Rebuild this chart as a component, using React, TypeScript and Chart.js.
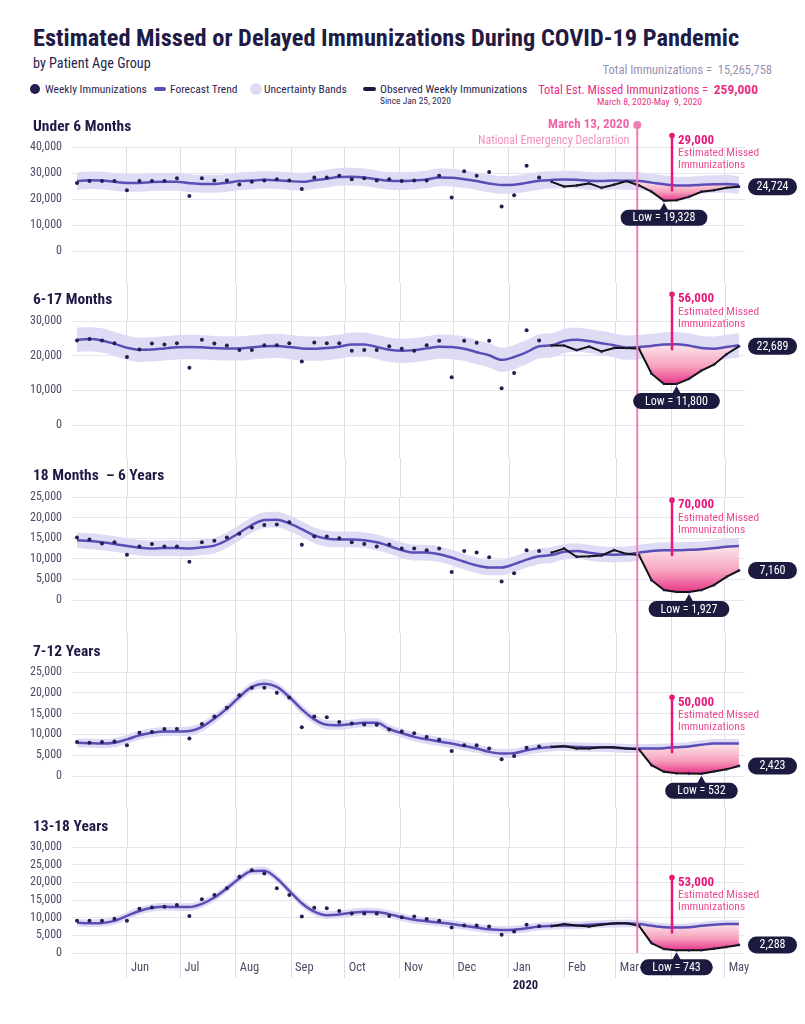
import React, { useEffect, useRef } from "react";
import { Chart, registerables } from "chart.js";

Chart.register(...registerables);

const FONT = "'Roboto Condensed', 'Liberation Sans Narrow', 'DejaVu Sans Condensed', Roboto, sans-serif";
Chart.defaults.font.family = FONT;

// ---------- text ----------
const TITLE = "Estimated Missed or Delayed Immunizations During COVID-19 Pandemic";
const SUBTITLE = "by Patient Age Group";
const TOTAL_IMMUNIZATIONS = 15265758;
const TOTAL_MISSED = 259000;
const MISSED_PERIOD = "March 8, 2020-May  9, 2020";
const OBSERVED_SINCE = "Since Jan 25, 2020";
const EMERGENCY_TITLE = "March 13, 2020";
const EMERGENCY_NOTE = "National Emergency Declaration";

// ---------- time axis ----------
const FIRST_WEEK_ENDING = "2019-05-04";
const WEEK_COUNT = 54;
const OBSERVED_START = 38; // week ending Jan 25, 2020
const MISSED_START = 44; // last week before the missed period
const EMERGENCY_DATE = "2020-03-13";
const MONTH_LABELS = ["Jun", "Jul", "Aug", "Sep", "Oct", "Nov", "Dec", "Jan", "Feb", "Mar", "Apr", "May"];
const MONTH_STARTS = [
  "2019-06-01", "2019-07-01", "2019-08-01", "2019-09-01", "2019-10-01", "2019-11-01",
  "2019-12-01", "2020-01-01", "2020-02-01", "2020-03-01", "2020-04-01", "2020-05-01",
];
const YEAR_LABEL = "2020";
const YEAR_START = "2020-01-01";

// ---------- Under 6 Months ----------
const U6_WEEKLY = [26200, 26900, 26900, 26900, 23400, 26900, 26900, 26900, 28000, 21200, 28000, 27100, 27100, 25600, 26600, 27100, 27600, 27100, 23800, 28300, 28300, 28900, 27600, 28000, 27100, 27600, 26900, 27100, 27100, 28900, 20600, 30700, 28900, 30400, 17100, 21400, 32800, 28300];
const U6_OBSERVED = [26600, 24800, 25200, 26000, 24300, 25500, 26900, 25200, 22800, 19328, 19500, 20800, 22800, 23400, 24300, 24724];
const U6_TREND = [26900, 27200, 27100, 26600, 26200, 26200, 26500, 26600, 26600, 26100, 25800, 25800, 26200, 26900, 27100, 27400, 27200, 26900, 26600, 27200, 27800, 28500, 28600, 28300, 27600, 27000, 26900, 27100, 27500, 28300, 28200, 27600, 26900, 26000, 25400, 25500, 26200, 27000, 27300, 27500, 27400, 27000, 26900, 27100, 27000, 26900, 26300, 25700, 25200, 25200, 25500, 25700, 25800, 25400];
const U6_BAND = 3400;
const U6_MISSED = 29000;

// ---------- 6-17 Months ----------
const M617_WEEKLY = [24400, 24800, 24400, 23600, 19600, 21800, 23500, 23200, 23600, 16500, 24600, 23500, 22900, 21600, 21600, 23000, 23000, 23600, 18300, 23800, 23600, 23600, 21400, 21600, 21600, 22700, 22000, 21400, 23000, 24300, 13800, 24300, 23700, 24300, 10600, 15000, 27300, 24400];
const M617_OBSERVED = [22900, 22900, 21600, 22600, 21200, 22200, 22200, 22000, 14800, 11850, 11800, 13300, 15700, 17400, 20400, 22689];
const M617_TREND = [24600, 24800, 24400, 23400, 22300, 21700, 21800, 22100, 22400, 22500, 22400, 22200, 22100, 22100, 22400, 22700, 22800, 22500, 22100, 22000, 22200, 22600, 23200, 23200, 22500, 21700, 21400, 21600, 22100, 22600, 22500, 22000, 21000, 20100, 18800, 19600, 21000, 22700, 23000, 24200, 24600, 24200, 23600, 23000, 22300, 22500, 22800, 23200, 23300, 22900, 22200, 22000, 22500, 23000];
const M617_BAND = 3500;
const M617_MISSED = 56000;

// ---------- 18 Months - 6 Years ----------
const Y16_WEEKLY = [15200, 14700, 13700, 14000, 11000, 13000, 13600, 13000, 13000, 9300, 14000, 14400, 15200, 16100, 17600, 18200, 18300, 18900, 13400, 15400, 15400, 15000, 14000, 13600, 13000, 13500, 12500, 12500, 12100, 12500, 6800, 11900, 11500, 10400, 4500, 6500, 12100, 11900];
const Y16_OBSERVED = [11500, 12500, 10500, 10600, 10800, 12100, 11200, 10900, 4800, 2400, 1950, 1927, 2400, 3600, 5600, 7160];
const Y16_TREND = [14500, 14300, 14000, 13600, 13100, 12700, 12500, 12600, 12600, 12500, 12800, 13200, 14500, 16300, 18200, 19400, 19500, 18600, 17200, 15700, 14900, 14700, 14700, 14500, 14000, 13100, 12100, 11500, 11500, 11100, 10300, 9300, 8400, 7900, 7900, 8700, 9800, 10600, 10900, 11700, 11900, 11500, 11100, 11000, 11100, 11500, 11900, 12100, 12100, 12200, 12300, 12600, 12900, 13100];
const Y16_BAND = 1900;
const Y16_MISSED = 70000;

// ---------- 7-12 Years ----------
const Y712_WEEKLY = [8200, 8000, 8200, 8300, 7400, 10400, 10600, 11300, 11300, 9000, 12500, 14300, 16400, 19400, 21200, 21200, 20000, 18900, 11700, 14300, 14100, 13000, 12600, 12400, 12300, 11200, 10700, 10300, 9400, 8700, 6000, 7400, 7400, 6600, 4000, 4800, 6800, 7100];
const Y712_OBSERVED = [7000, 7200, 6600, 6600, 6900, 6900, 6600, 6400, 2600, 1000, 650, 600, 532, 1100, 1600, 2423];
const Y712_TREND = [8000, 7900, 7800, 8000, 8800, 9800, 10400, 10700, 10700, 10800, 11800, 13800, 16200, 19000, 21400, 22200, 21400, 19000, 16000, 13600, 12300, 12200, 12500, 12800, 12800, 11300, 10300, 9400, 8800, 8300, 7800, 7200, 6600, 5800, 5400, 5500, 6200, 6700, 7000, 7100, 7000, 6900, 6900, 6800, 6600, 6600, 6600, 6700, 6900, 7100, 7500, 7800, 7800, 7800];
const Y712_BAND = 1100;
const Y712_MISSED = 50000;

// ---------- 13-18 Years ----------
const Y1318_WEEKLY = [9100, 9100, 9100, 9700, 9100, 12500, 12900, 13100, 13600, 10500, 15200, 16400, 18300, 21600, 23400, 22500, 18300, 16400, 10300, 12800, 12700, 11900, 11200, 11200, 11200, 10500, 10100, 10300, 9600, 9100, 7200, 7800, 7800, 7500, 5200, 6100, 8000, 7600];
const Y1318_OBSERVED = [7600, 8200, 7800, 7500, 8000, 8400, 8400, 7700, 2800, 1100, 743, 760, 800, 1200, 1700, 2288];
const Y1318_TREND = [8600, 8400, 8500, 9100, 10500, 11900, 12800, 13100, 13000, 13000, 13900, 15700, 18300, 21100, 23200, 23300, 21100, 17600, 14100, 11700, 10700, 10900, 11400, 11700, 11600, 11000, 10100, 9400, 9000, 8600, 8200, 7700, 7200, 6700, 6500, 6600, 7000, 7500, 7700, 7800, 7800, 8000, 8200, 8300, 8400, 8200, 7700, 7300, 7200, 7300, 7700, 8000, 8200, 8200];
const Y1318_BAND = 1100;
const Y1318_MISSED = 53000;

const PANELS = [
  { title: "Under 6 Months", weekly: U6_WEEKLY, observed: U6_OBSERVED, trend: U6_TREND, band: U6_BAND, missed: U6_MISSED, yMax: 40000, yStep: 10000 },
  { title: "6-17 Months", weekly: M617_WEEKLY, observed: M617_OBSERVED, trend: M617_TREND, band: M617_BAND, missed: M617_MISSED, yMax: 30000, yStep: 10000 },
  { title: "18 Months  \u2013 6 Years", weekly: Y16_WEEKLY, observed: Y16_OBSERVED, trend: Y16_TREND, band: Y16_BAND, missed: Y16_MISSED, yMax: 25000, yStep: 5000 },
  { title: "7-12 Years", weekly: Y712_WEEKLY, observed: Y712_OBSERVED, trend: Y712_TREND, band: Y712_BAND, missed: Y712_MISSED, yMax: 25000, yStep: 5000 },
  { title: "13-18 Years", weekly: Y1318_WEEKLY, observed: Y1318_OBSERVED, trend: Y1318_TREND, band: Y1318_BAND, missed: Y1318_MISSED, yMax: 30000, yStep: 5000 },
];

// ---------- layout & style ----------
const CANVAS_W = 789;
const Y_AXIS_W = 64;
const RIGHT_PAD = 52;
const PANEL_LAYOUT = [
  { height: 175, padTop: 39, plot: 104, titleTop: 8 },
  { height: 175, padTop: 38, plot: 104, titleTop: 6 },
  { height: 175, padTop: 39, plot: 103, titleTop: 7 },
  { height: 175, padTop: 39, plot: 104, titleTop: 8 },
  { height: 192, padTop: 39, plot: 106, titleTop: 8 },
];
const ARROW_DATE = "2020-04-01";

const NAVY = "#1f1b45";
const PILL = "#1d1a40";
const AXIS_TEXT = "#4f4a66";
const GRID_H = "#e7e4ec";
const GRID_V = "#e1dae9";
const TREND = "#5a4db6";
const BAND = "#dedbf5";
const DOT = "#231f4f";
const OBSERVED = "#111111";
const EMERGENCY = "#f07eb3";
const EMERGENCY_TEXT = "#ee64a4";
const EMERGENCY_SUB = "#f290be";
const MAGENTA = "#e6187b";
const MAGENTA_SOFT = "#ec4b92";
const TOTAL_GREY = "#9a90b2";
const TOTAL_PINK = "#ea3183";

const DAY = 86400000;
const dayOf = (iso: string) => Date.parse(iso + "T00:00:00Z") / DAY;
const WEEK_X = Array.from({ length: WEEK_COUNT }, (_, i) => dayOf(FIRST_WEEK_ENDING) + 7 * i);
const MONTH_X = MONTH_STARTS.map(dayOf);
const X_MIN = WEEK_X[0] - 2.8;
const X_MAX = WEEK_X[WEEK_COUNT - 1] + 3.4;
const fmt = (v: number) => Math.round(v).toLocaleString("en-US");

function PanelChart({ index }: { index: number }) {
  const ref = useRef<HTMLCanvasElement | null>(null);
  const p = PANELS[index];
  const L = PANEL_LAYOUT[index];
  const first = index === 0;
  const last = index === PANELS.length - 1;

  useEffect(() => {
    if (!ref.current) return;
    const xh = L.height - L.padTop - L.plot;
    const xy = (vals: number[], start: number) => vals.map((v, i) => ({ x: WEEK_X[start + i], y: v }));
    const gapTrend = p.trend.slice(MISSED_START);
    const gapObserved = p.observed.slice(MISSED_START - OBSERVED_START);
    let lowValue = Infinity;
    let lowWeek = MISSED_START;
    gapObserved.forEach((v, i) => {
      if (v < lowValue) { lowValue = v; lowWeek = MISSED_START + i; }
    });
    const lastValue = p.observed[p.observed.length - 1];

    const pinkFill = (c: any) => {
      const ch = c.chart;
      if (!ch.chartArea) return "#f5a3bf";
      const ys = ch.scales.y;
      const top = ys.getPixelForValue(Math.max(...gapTrend));
      const bot = ys.getPixelForValue(lowValue);
      const g = ch.ctx.createLinearGradient(0, top, 0, bot);
      g.addColorStop(0, "#fde6eb");
      g.addColorStop(0.55, "#f6a2bd");
      g.addColorStop(1, "#e8368a");
      return g;
    };

    const overlay = {
      id: "overlay",
      afterDraw(ch: any) {
        const { ctx, chartArea: a } = ch;
        const xs = ch.scales.x;
        const ys = ch.scales.y;
        const H = ch.height;
        ctx.save();

        // month grid continues up through the title band
        if (!first) {
          ctx.strokeStyle = GRID_V;
          ctx.lineWidth = 1;
          MONTH_X.forEach((v) => {
            const px = Math.round(xs.getPixelForValue(v)) + 0.5;
            ctx.beginPath();
            ctx.moveTo(px, 0);
            ctx.lineTo(px, a.top);
            ctx.stroke();
          });
        }

        // national emergency marker
        const ex = xs.getPixelForValue(dayOf(EMERGENCY_DATE));
        const eTop = first ? 17 : 0;
        const eBot = last ? a.bottom : H;
        ctx.strokeStyle = EMERGENCY;
        ctx.lineWidth = 2;
        ctx.beginPath();
        ctx.moveTo(ex, eTop);
        ctx.lineTo(ex, eBot);
        ctx.stroke();
        if (first) {
          ctx.fillStyle = EMERGENCY;
          ctx.beginPath();
          ctx.arc(ex, eTop, 4, 0, Math.PI * 2);
          ctx.fill();
          ctx.textAlign = "right";
          ctx.textBaseline = "middle";
          ctx.fillStyle = EMERGENCY_TEXT;
          ctx.font = `bold 13px ${FONT}`;
          ctx.fillText(EMERGENCY_TITLE, ex - 8, eTop);
          ctx.fillStyle = EMERGENCY_SUB;
          ctx.font = `12px ${FONT}`;
          ctx.fillText(EMERGENCY_NOTE, ex - 8, eTop + 16);
        }

        // estimated missed annotation
        const axDay = dayOf(ARROW_DATE);
        const ax = Math.round(xs.getPixelForValue(axDay)) + 1;
        const nearWeek = Math.round((axDay - WEEK_X[0]) / 7);
        const aBot = ys.getPixelForValue(p.trend[nearWeek]) + 6;
        const aTop = aBot - 56;
        ctx.strokeStyle = MAGENTA;
        ctx.fillStyle = MAGENTA;
        ctx.lineWidth = 2.5;
        ctx.beginPath();
        ctx.moveTo(ax, aBot);
        ctx.lineTo(ax, aTop);
        ctx.stroke();
        ctx.beginPath();
        ctx.arc(ax, aTop, 2.8, 0, Math.PI * 2);
        ctx.fill();
        ctx.textAlign = "left";
        ctx.textBaseline = "middle";
        ctx.font = `bold 13px ${FONT}`;
        ctx.fillText(fmt(p.missed), ax + 6, aTop + 5);
        ctx.fillStyle = MAGENTA_SOFT;
        ctx.font = `11.5px ${FONT}`;
        ctx.fillText("Estimated Missed", ax + 6, aTop + 18);
        ctx.fillText("Immunizations", ax + 6, aTop + 30);

        // lowest observed week
        const lx = xs.getPixelForValue(WEEK_X[lowWeek]);
        const ly = ys.getPixelForValue(lowValue);
        const lowText = `Low = ${fmt(lowValue)}`;
        ctx.font = `12px ${FONT}`;
        const lw = ctx.measureText(lowText).width + 24;
        const lt = ly + 9;
        ctx.fillStyle = PILL;
        ctx.beginPath();
        ctx.moveTo(lx - 4.5, lt + 1);
        ctx.lineTo(lx + 4.5, lt + 1);
        ctx.lineTo(lx, ly + 2);
        ctx.closePath();
        ctx.fill();
        ctx.beginPath();
        ctx.roundRect(lx - lw / 2, lt, lw, 16, 8);
        ctx.fill();
        ctx.fillStyle = "#ffffff";
        ctx.textAlign = "center";
        ctx.fillText(lowText, lx, lt + 8.5);

        // latest observed value
        const vy = ys.getPixelForValue(lastValue);
        ctx.fillStyle = PILL;
        ctx.beginPath();
        ctx.roundRect(a.right + 3, vy - 8.5, 49, 17, 8.5);
        ctx.fill();
        ctx.fillStyle = "#ffffff";
        ctx.fillText(fmt(lastValue), a.right + 27.5, vy + 0.5);

        if (last) {
          ctx.fillStyle = NAVY;
          ctx.textAlign = "left";
          ctx.font = `bold 12.5px ${FONT}`;
          ctx.fillText(YEAR_LABEL, xs.getPixelForValue(dayOf(YEAR_START)) + 4, a.bottom + 33);
        }
        ctx.restore();
      },
    };

    const chart = new Chart(ref.current, {
      type: "line",
      data: {
        datasets: [
          { data: xy(p.trend.map((v) => v + p.band), 0), borderWidth: 0, pointRadius: 0, fill: false, cubicInterpolationMode: "monotone", order: 10 },
          { data: xy(p.trend.map((v) => v - p.band), 0), borderWidth: 0, pointRadius: 0, fill: "-1", backgroundColor: BAND, cubicInterpolationMode: "monotone", order: 10 },
          { data: xy(gapTrend, MISSED_START), borderWidth: 0, pointRadius: 0, fill: false, cubicInterpolationMode: "monotone", order: 9 },
          { data: xy(gapObserved, MISSED_START), borderWidth: 0, pointRadius: 0, fill: "-1", backgroundColor: pinkFill, tension: 0, order: 9 },
          { data: xy(p.trend, 0), borderColor: TREND, borderWidth: 2.5, pointRadius: 0, fill: false, cubicInterpolationMode: "monotone", order: 7 },
          { data: xy(p.observed, OBSERVED_START), borderColor: OBSERVED, borderWidth: 2, pointRadius: 1.4, pointBackgroundColor: DOT, pointBorderWidth: 0, fill: false, tension: 0, order: 5 },
          { data: xy(p.weekly, 0), showLine: false, pointRadius: 2, pointBackgroundColor: DOT, pointBorderWidth: 0, order: 3 },
        ],
      },
      options: {
        responsive: false,
        animation: false,
        events: [],
        layout: { padding: { top: L.padTop, right: RIGHT_PAD, left: 0, bottom: 0 } },
        plugins: { legend: { display: false }, tooltip: { enabled: false }, title: { display: false } },
        scales: {
          x: {
            type: "linear",
            min: X_MIN,
            max: X_MAX,
            border: { display: false },
            grid: { color: GRID_V, lineWidth: 1, drawTicks: true, tickLength: last ? 25 : xh },
            ticks: {
              display: last,
              autoSkip: false,
              maxRotation: 0,
              align: "start",
              labelOffset: 4,
              padding: -18,
              color: AXIS_TEXT,
              font: { size: 12.5 },
              callback: (_v: any, i: number) => MONTH_LABELS[i],
            },
            afterBuildTicks: (s: any) => { s.ticks = MONTH_X.map((v) => ({ value: v })); },
            afterFit: (s: any) => { s.height = xh; },
          },
          y: {
            min: 0,
            max: p.yMax,
            border: { display: false },
            grid: { color: GRID_H, lineWidth: 1, drawTicks: false },
            ticks: {
              stepSize: p.yStep,
              padding: 10,
              color: AXIS_TEXT,
              font: { size: 12 },
              callback: (v: any) => fmt(Number(v)),
            },
            afterFit: (s: any) => { s.width = Y_AXIS_W; },
          },
        },
      },
      plugins: [overlay],
    } as any);
    return () => chart.destroy();
  }, []);

  return (
    <div style={{ position: "relative", height: L.height }}>
      <canvas ref={ref} width={CANVAS_W} height={L.height} style={{ display: "block", width: CANVAS_W, height: L.height }} />
      <div style={{ position: "absolute", left: 25, top: L.titleTop, fontSize: 15.5, fontWeight: 700, color: NAVY, lineHeight: "20px", whiteSpace: "pre" }}>
        {p.title}
      </div>
    </div>
  );
}

function Header() {
  const legendText = { position: "absolute" as const, top: 74, fontSize: 11.5, lineHeight: "14px", color: "#2b2752", whiteSpace: "nowrap" as const };
  return (
    <div style={{ position: "relative", height: 100 }}>
      <div style={{ position: "absolute", left: 25, top: 15, fontSize: 24.4, fontWeight: 700, color: NAVY, lineHeight: "30px", whiteSpace: "nowrap" }}>{TITLE}</div>
      <div style={{ position: "absolute", left: 25, top: 47, fontSize: 14.2, color: "#2a2550", lineHeight: "16px" }}>{SUBTITLE}</div>

      <div style={{ position: "absolute", left: 22, top: 76, width: 10, height: 10, borderRadius: 5, background: DOT }} />
      <div style={{ ...legendText, left: 37 }}>Weekly Immunizations</div>
      <div style={{ position: "absolute", left: 146, top: 79, width: 12, height: 4, borderRadius: 2, background: TREND }} />
      <div style={{ ...legendText, left: 162 }}>Forecast Trend</div>
      <div style={{ position: "absolute", left: 242, top: 75, width: 12, height: 12, borderRadius: 6, background: BAND }} />
      <div style={{ ...legendText, left: 256 }}>Uncertainty Bands</div>
      <div style={{ position: "absolute", left: 355, top: 79, width: 13, height: 4, borderRadius: 2, background: PILL }} />
      <div style={{ ...legendText, left: 372 }}>Observed Weekly Immunizations</div>
      <div style={{ position: "absolute", left: 372, top: 87, fontSize: 9.5, lineHeight: "12px", color: "#2b2752", whiteSpace: "nowrap" }}>{OBSERVED_SINCE}</div>

      <div style={{ position: "absolute", right: 25, top: 54, fontSize: 12.5, lineHeight: "16px", color: TOTAL_GREY, whiteSpace: "pre" }}>
        {"Total Immunizations =  " + fmt(TOTAL_IMMUNIZATIONS)}
      </div>
      <div style={{ position: "absolute", right: 39, top: 73, fontSize: 12.5, lineHeight: "16px", color: TOTAL_PINK, whiteSpace: "pre" }}>
        {"Total Est. Missed Immunizations =  "}
        <b style={{ fontSize: 13.5 }}>{fmt(TOTAL_MISSED)}</b>
      </div>
      <div style={{ position: "absolute", left: 589, top: 88, fontSize: 9.7, lineHeight: "12px", color: TOTAL_PINK, whiteSpace: "pre" }}>{MISSED_PERIOD}</div>
    </div>
  );
}

export default function App() {
  return (
    <div style={{ position: "relative", width: CANVAS_W, fontFamily: FONT }}>
      <Header />
      {PANELS.map((_, i) => (
        <PanelChart key={i} index={i} />
      ))}
    </div>
  );
}
